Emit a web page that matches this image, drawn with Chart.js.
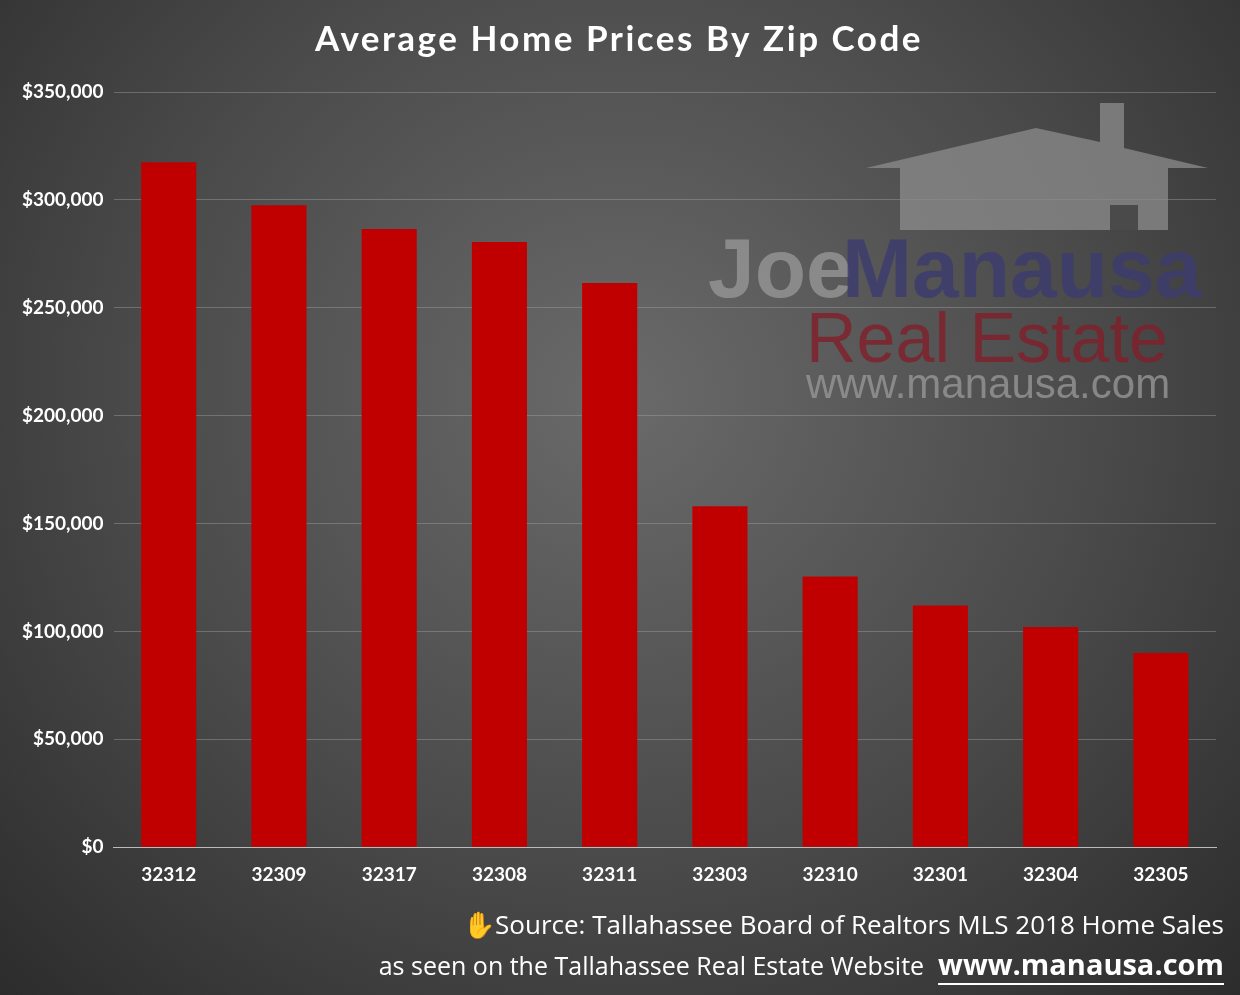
<!DOCTYPE html>
<html><head><meta charset="utf-8">
<script src="https://cdn.jsdelivr.net/npm/chart.js@4"></script>
<style>
html,body{margin:0;padding:0;width:1240px;height:995px;overflow:hidden;background:radial-gradient(ellipse at 50% 40%,#6a6a6a 0%,#4a4a4a 55%,#2c2c2c 100%);}
#wrap{position:absolute;left:0;top:0;width:1240px;height:995px;}
</style></head><body>
<div id="wrap"><canvas id="c" width="1240" height="995"></canvas></div>
<script>
const zipCodes=["32312","32309","32317","32308","32311","32303","32310","32301","32304","32305"];
const avgPrices=[317500,297500,286500,280500,261500,158000,125500,112000,102000,90000];
const titleText="Average Home Prices By Zip Code";
const sourceLine1="Source: Tallahassee Board of Realtors MLS 2018 Home Sales";
const sourceLine2="as seen on the Tallahassee Real Estate Website";
const siteText="www.manausa.com";

const decor={id:'decor',
beforeDatasetsDraw(ch){const c=ch.ctx;c.save();
 c.fillStyle='rgba(140,140,140,0.75)';
 c.beginPath();c.moveTo(866,168);c.lineTo(1036,128);c.lineTo(1100,142);c.lineTo(1100,103);c.lineTo(1124,103);c.lineTo(1124,148);c.lineTo(1208,168);c.lineTo(1168,168);c.lineTo(1168,230);c.lineTo(900,230);c.lineTo(900,168);c.closePath();c.fill();
 c.fillStyle='rgba(70,70,70,0.9)';c.fillRect(1110,205,28,28);
 c.font='bold 84px "Liberation Sans"';c.textBaseline='alphabetic';
 c.fillStyle='rgba(150,150,150,0.8)';c.fillText('Joe',708,297);
 c.fillStyle='rgba(60,60,110,0.85)';c.fillText('Manausa',842,297);
 c.font='70px "Liberation Sans"';c.fillStyle='rgba(130,30,40,0.8)';c.fillText('Real Estate',806,362);
 c.font='42px "Liberation Sans"';c.fillStyle='rgba(150,150,150,0.8)';c.fillText('www.manausa.com',806,398);
 c.restore();},
afterDraw(ch){const c=ch.ctx;c.save();
 c.fillStyle='#fff';c.font='bold 35px Lato';c.textAlign='center';c.textBaseline='middle';
 if(c.letterSpacing!==undefined)c.letterSpacing='2.5px';
 c.fillText(titleText,619,40);
 if(c.letterSpacing!==undefined)c.letterSpacing='0px';
 c.textAlign='right';c.font='26px "Open Sans"';
 c.fillText('\u270B'+sourceLine1,1224,927);
 c.font='bold 29px "Open Sans"';c.fillText(siteText,1224,967);
 const w=c.measureText(siteText).width;c.fillRect(1224-w,983,w,2);
 c.font='25px "Open Sans"';c.fillText(sourceLine2,1224-w-14,968);
 c.restore();}};

new Chart(document.getElementById('c'),{type:'bar',
data:{labels:zipCodes,datasets:[{data:avgPrices,backgroundColor:'#c00000',barPercentage:0.5,categoryPercentage:1}]},
options:{responsive:false,animation:false,devicePixelRatio:1,
layout:{padding:{top:92,right:24,bottom:101,left:12}},
plugins:{legend:{display:false},tooltip:{enabled:false}},
scales:{x:{grid:{display:false},border:{color:'#bbb'},ticks:{color:'#fff',font:{family:'Lato',size:19,weight:'bold'},padding:8}},
y:{min:0,max:350000,ticks:{stepSize:50000,color:'#fff',padding:10,font:{family:'Lato',size:19,weight:'bold'},callback:v=>'$'+v.toLocaleString('en-US')},
grid:{color:'rgba(160,160,160,0.45)',drawTicks:false},border:{display:false}}}},
plugins:[decor]});
</script></body></html>
